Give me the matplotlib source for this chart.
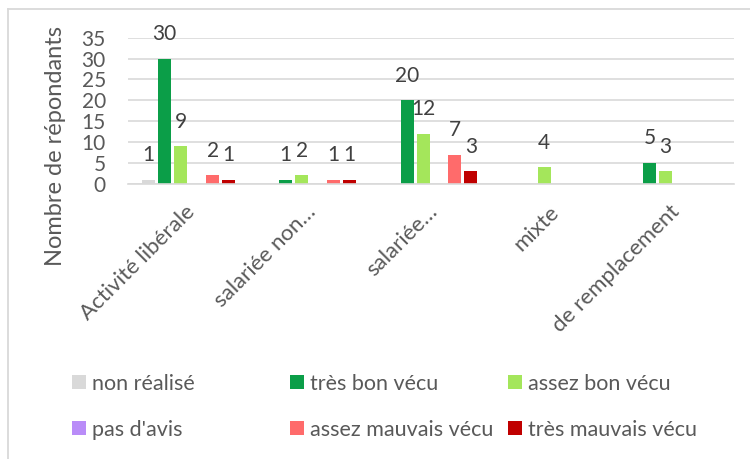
import matplotlib
matplotlib.use('Agg')
import matplotlib.pyplot as plt
from matplotlib.patches import Rectangle
from matplotlib.lines import Line2D
import matplotlib.transforms as mtransforms
import numpy as np

plt.rcParams['font.family'] = ['Lato', 'DejaVu Sans']

categories = ["Activité libérale", "salariée non…", "salariée…", "mixte", "de remplacement"]
series_names = ["non réalisé", "très bon vécu", "assez bon vécu",
                "pas d'avis", "assez mauvais vécu", "très mauvais vécu"]
non_realise = [1, 0, 0, 0, 0]
tres_bon = [30, 1, 20, 0, 5]
assez_bon = [9, 2, 12, 4, 3]
pas_avis = [0, 0, 0, 0, 0]
assez_mauvais = [2, 1, 7, 0, 0]
tres_mauvais = [1, 1, 3, 0, 0]
series_values = [non_realise, tres_bon, assez_bon, pas_avis, assez_mauvais, tres_mauvais]
colors = ["#D9D9D9", "#0B9E48", "#A4E65B", "#B98CF8", "#FF6B6B", "#C00000"]
yticks = [0, 5, 10, 15, 20, 25, 30, 35]

W, H = 750, 459
fig = plt.figure(figsize=(W / 100, H / 100), dpi=100)

# chart border (top and left visible)
fig.add_artist(Line2D([7.5 / W, 7.5 / W], [0, 1 - 8.5 / H], transform=fig.transFigure,
                      color="#D9D9D9", lw=1.3))
fig.add_artist(Line2D([7.5 / W, 1], [1 - 8.5 / H, 1 - 8.5 / H], transform=fig.transFigure,
                      color="#D9D9D9", lw=1.3))

left, right = 128, 734
top, bottom = 37.7, 183.7
ax = fig.add_axes([left / W, 1 - bottom / H, (right - left) / W, (bottom - top) / H])

x = np.arange(len(categories))
slot = 16 / 121.3
bw = 13 / 121.3
for i, (vals, col) in enumerate(zip(series_values, colors)):
    xs = x + (i - 2.5) * slot
    ax.bar(xs, vals, width=bw, color=col, zorder=3)
    for xi, v in zip(xs, vals):
        if v:
            ax.annotate(str(v), (xi, v), xytext=(0, 13.3), textcoords='offset points',
                        ha='center', va='baseline', fontsize=15, color="#404040", zorder=4)

ax.set_xlim(-0.5, len(categories) - 0.5)
ax.set_ylim(0, 35)
ax.set_yticks(yticks)
ax.grid(axis='y', color="#D9D9D9", lw=1.2, zorder=0)
for s in ['left', 'right', 'top']:
    ax.spines[s].set_visible(False)
ax.spines['bottom'].set_color("#D9D9D9")
ax.spines['bottom'].set_linewidth(1.2)
ax.spines['bottom'].set_zorder(5)
ax.tick_params(axis='both', length=0, colors="#595959", labelsize=15)
ax.tick_params(axis='y', pad=16)
ax.set_xticks(x)
ax.set_xticklabels(categories, rotation=45, ha='right', va='top', rotation_mode='anchor',
                   fontsize=16, color="#595959")
ax.tick_params(axis='x', pad=13)
off = mtransforms.ScaledTranslation(-4 / 100, 0, fig.dpi_scale_trans)
for lab in ax.get_xticklabels():
    lab.set_transform(lab.get_transform() + off)

fig.text(55 / W, 1 - 146 / H, "Nombre de répondants", rotation=90, ha='center', va='center',
         fontsize=17, color="#595959")

# legend (Excel style, equal-width columns, row-major)
col_x = [72, 290, 508]
row_y = [382, 428]
for k, (name, col) in enumerate(zip(series_names, colors)):
    r, c = divmod(k, 3)
    mx, my = col_x[c], row_y[r]
    fig.add_artist(Rectangle((mx / W, 1 - (my + 7) / H), 14 / W, 14 / H,
                             transform=fig.transFigure, color=col, lw=0))
    fig.text((mx + 20) / W, 1 - my / H, name, ha='left', va='center_baseline',
             fontsize=15.5, color="#595959")

fig.savefig("out.png", dpi=100)
